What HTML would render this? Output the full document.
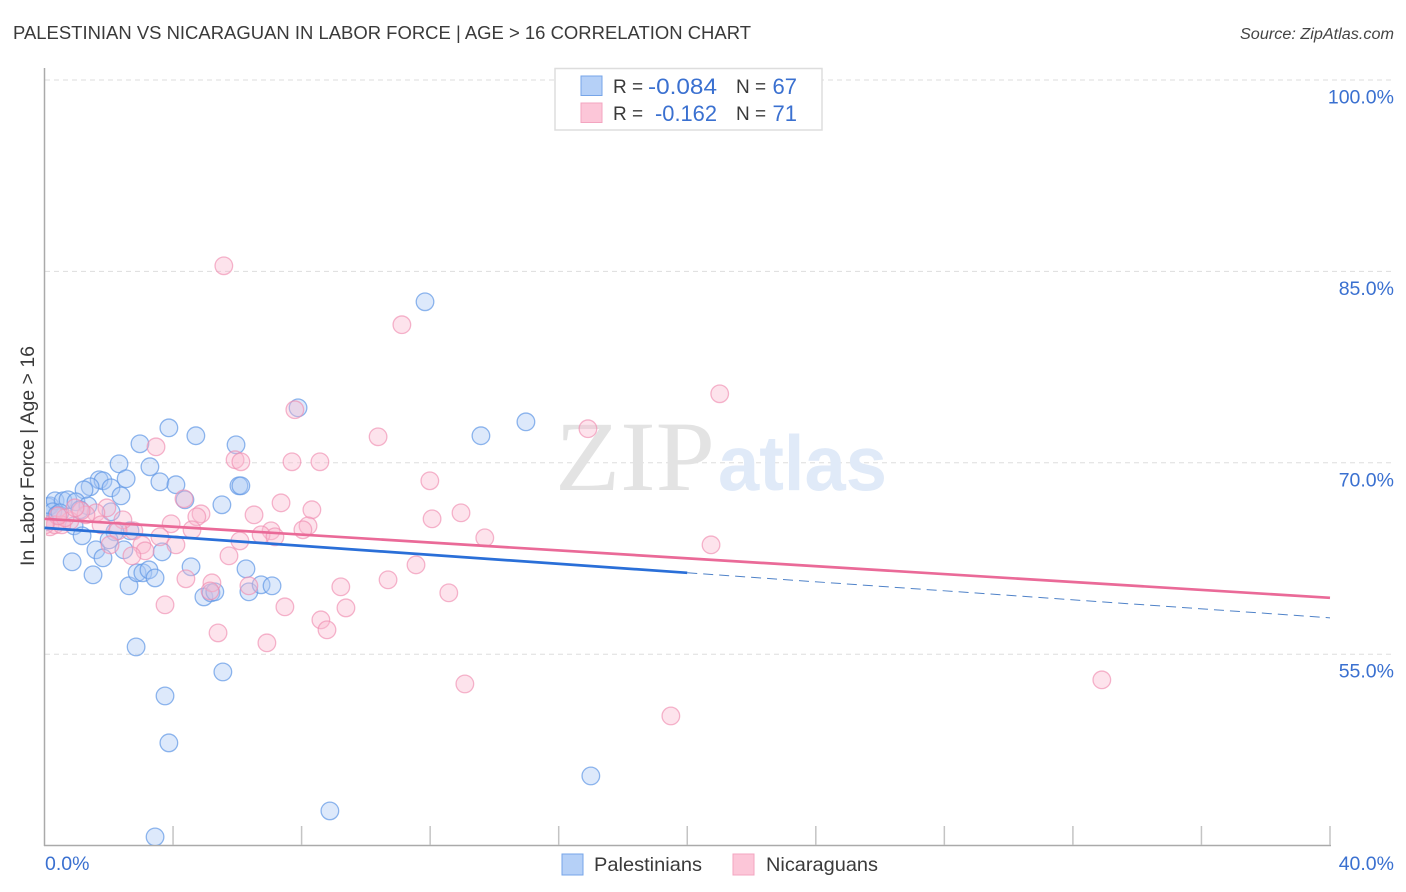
<!DOCTYPE html>
<html lang="en">
<head>
<meta charset="utf-8">
<title>Palestinian vs Nicaraguan in Labor Force Correlation Chart</title>
<style>
html,body{margin:0;padding:0;background:#fff;width:1406px;height:892px;overflow:hidden}
svg{display:block}
text{font-family:"Liberation Sans",sans-serif}
</style>
</head>
<body>
<svg id="chart" width="1406" height="892" viewBox="0 0 1406 892" xmlns="http://www.w3.org/2000/svg">
  <defs>
    <clipPath id="plot-clip"><rect x="46" y="68" width="1350" height="777"></rect></clipPath>
  </defs>
  <rect x="0" y="0" width="1406" height="892" fill="#ffffff"></rect>
  <text x="13" y="39" font-size="18.5" fill="#3a3a3a" textLength="738" lengthAdjust="spacingAndGlyphs">PALESTINIAN VS NICARAGUAN IN LABOR FORCE | AGE &gt; 16 CORRELATION CHART</text>
  <text x="1394" y="39" font-size="15.5" font-style="italic" fill="#444444" text-anchor="end" textLength="154" lengthAdjust="spacingAndGlyphs">Source: ZipAtlas.com</text>
  <g id="grid"></g>
  <g>
    <text x="555" y="490" font-size="100" fill="#e3e3e3" textLength="160" lengthAdjust="spacingAndGlyphs" style="font-family:'Liberation Serif',serif">ZIP</text>
    <text x="718" y="490" font-size="78" font-weight="bold" fill="#e0eaf8" textLength="169" lengthAdjust="spacingAndGlyphs">atlas</text>
  </g>
  <g id="axes"></g>
  <g id="points" clip-path="url(#plot-clip)"></g>
  <g id="trends"></g>
  <g id="tick-labels"></g>
  <text transform="translate(34,456) rotate(-90)" font-size="19" fill="#3a3a3a" text-anchor="middle" textLength="220" lengthAdjust="spacingAndGlyphs">In Labor Force | Age &gt; 16</text>

  <g>
    <rect x="555" y="68.5" width="267" height="61.5" fill="#ffffff" stroke="#dddddd" stroke-width="1.5"></rect>
    <rect x="581" y="76" width="21" height="19.5" fill="#b5d0f7" stroke="#76a5e8" stroke-width="1"></rect>
    <rect x="581" y="103" width="21" height="19.5" fill="#fcc6d8" stroke="#f3a5c0" stroke-width="1"></rect>
    <text x="613" y="93" font-size="19" fill="#3a3a3a">R =</text>
    <text x="717" y="94" font-size="22" fill="#3a70d0" text-anchor="end" textLength="69" lengthAdjust="spacingAndGlyphs">-0.084</text>
    <text x="736" y="93" font-size="19" fill="#3a3a3a">N =</text>
    <text x="797" y="94" font-size="22" fill="#3a70d0" text-anchor="end">67</text>
    <text x="613" y="120" font-size="19" fill="#3a3a3a">R =</text>
    <text x="717" y="121" font-size="22" fill="#3a70d0" text-anchor="end" textLength="62" lengthAdjust="spacingAndGlyphs">-0.162</text>
    <text x="736" y="120" font-size="19" fill="#3a3a3a">N =</text>
    <text x="797" y="121" font-size="22" fill="#3a70d0" text-anchor="end">71</text>
  </g>

  <g>
    <rect x="562" y="854" width="21" height="21" fill="#b5d0f7" stroke="#76a5e8" stroke-width="1"></rect>
    <text x="594" y="871" font-size="19.5" fill="#3a3a3a" textLength="108" lengthAdjust="spacingAndGlyphs">Palestinians</text>
    <rect x="733" y="854" width="21" height="21" fill="#fcc6d8" stroke="#f3a5c0" stroke-width="1"></rect>
    <text x="766" y="871" font-size="19.5" fill="#3a3a3a" textLength="112" lengthAdjust="spacingAndGlyphs">Nicaraguans</text>
  </g>
</svg>

<script>
const yTickValues = [100, 85, 70, 55];
const yTickLabels = ["100.0%", "85.0%", "70.0%", "55.0%"];
const xTickValues = [0, 4, 8, 12, 16, 20, 24, 28, 32, 36, 40];
const xEndLabels = ["0.0%", "40.0%"];

const palestinianX = [3.44,8.88,17.00,3.87,3.75,5.55,2.85,11.84,7.89,14.98,13.58,4.71,3.87,2.97,5.96,3.28,2.32,1.70,1.82,1.42,1.23,2.54,2.07,2.38,3.59,4.09,4.37,6.05,6.11,5.52,2.07,0.11,0.17,0.33,0.58,0.73,0.98,1.35,1.10,0.26,0.39,0.05,0.92,1.17,1.60,0.86,1.82,1.51,2.66,2.19,2.01,2.63,2.88,3.06,3.25,3.44,3.66,4.56,4.96,5.18,5.30,6.27,6.36,6.74,7.08,2.47,0.48];
const palestinianY = [40.68,42.72,45.46,48.05,51.73,53.61,55.57,82.62,74.31,73.21,72.12,72.12,72.74,71.49,71.41,69.69,69.92,68.67,68.59,68.12,67.88,68.75,68.04,67.41,68.51,68.28,67.10,68.20,68.20,66.71,66.16,66.55,66.63,67.02,67.02,67.10,66.94,66.63,66.32,66.16,65.92,65.37,65.06,64.28,63.18,62.24,62.55,61.22,64.67,64.59,63.96,60.36,61.38,61.38,61.61,60.98,63.02,61.85,59.49,59.81,59.89,61.69,59.89,60.44,60.36,63.18,66.08];

const nicaraguanX = [5.58,11.12,21.01,7.79,16.91,10.38,3.47,5.93,6.11,7.70,8.57,11.99,4.34,7.36,12.96,12.06,8.32,4.87,4.74,6.52,3.94,8.20,8.04,4.59,7.05,6.74,7.17,6.08,13.70,20.74,4.09,3.59,2.78,3.03,3.13,2.72,5.74,2.44,1.94,1.60,1.29,0.79,0.17,0.33,0.54,0.64,1.14,1.76,2.29,2.04,3.75,4.40,5.21,5.15,6.36,7.48,9.22,9.38,10.69,11.56,12.58,8.60,8.79,5.40,6.92,13.08,19.49,32.90,0.95,0.42,0.02];
const nicaraguanY = [85.44,80.82,75.41,74.16,72.67,72.04,71.25,70.24,70.08,70.08,70.08,68.59,67.18,66.86,66.08,65.61,66.32,66.00,65.77,65.92,65.22,65.06,64.75,64.75,64.67,64.36,64.20,63.88,64.12,63.57,63.57,64.20,64.67,63.57,63.10,62.71,62.71,65.53,66.47,66.08,65.92,65.45,64.98,65.14,65.14,65.69,66.24,65.14,64.67,63.57,58.87,60.91,60.59,59.96,60.36,58.71,60.28,58.63,60.83,62.00,59.81,57.69,56.91,56.67,55.89,52.67,50.16,52.99,66.47,65.84,65.14];

const palestinianSolidX = [0, 20];
const palestinianSolidY = [64.90, 61.38];
const palestinianDashX = [20, 40];
const palestinianDashY = [61.38, 57.85];
const nicaraguanTrendX = [0, 40];
const nicaraguanTrendY = [65.61, 59.42];

const NS = "http://www.w3.org/2000/svg";
function xScale(v) { return 44.5 + (v / 40) * 1285.5; }
function yScale(v) { return 80 + (100 - v) * 12.76; }

function make(tag, attrs, parent) {
  const el = document.createElementNS(NS, tag);
  for (const k in attrs) el.setAttribute(k, attrs[k]);
  parent.appendChild(el);
  return el;
}

const gridG = document.getElementById("grid");
const axesG = document.getElementById("axes");
const pointsG = document.getElementById("points");
const trendsG = document.getElementById("trends");
const labelsG = document.getElementById("tick-labels");

yTickValues.forEach(function (v, i) {
  const line = make("line", { x1: 45, x2: 1394, y1: yScale(v), y2: yScale(v), stroke: "#dddddd", "stroke-width": 1, "stroke-dasharray": "5 4" }, gridG);
  
  
  const t = make("text", { x: 1394, y: yScale(v) + 23.5, "font-size": 19.5, fill: "#3a70d0", "text-anchor": "end" }, labelsG);
  t.textContent = yTickLabels[i];
  
  
});

const yAxis = make("line", { x1: 44.5, x2: 44.5, y1: 68, y2: 846, stroke: "#aaaaaa", "stroke-width": 1.5 }, axesG);


const xAxis = make("line", { x1: 44, x2: 1331, y1: 845.5, y2: 845.5, stroke: "#aaaaaa", "stroke-width": 1.5 }, axesG);



xTickValues.forEach(function (v) {
  if (v === 0) return;
  const tick = make("line", { x1: xScale(v), x2: xScale(v), y1: 826, y2: 845, stroke: "#c4c4c4", "stroke-width": 1.5 }, axesG);
  
  
});

const xStart = make("text", { x: 45, y: 870, "font-size": 19.5, fill: "#3a70d0" }, labelsG);
xStart.textContent = xEndLabels[0];


const xEnd = make("text", { x: 1394, y: 870, "font-size": 19.5, fill: "#3a70d0", "text-anchor": "end" }, labelsG);
xEnd.textContent = xEndLabels[1];



palestinianX.forEach(function (x, i) {
  const c = make("circle", { cx: xScale(x), cy: yScale(palestinianY[i]), r: 8.8, fill: "#a9c9f6", "fill-opacity": 0.4, stroke: "#5f97e6", "stroke-opacity": 0.7, "stroke-width": 1.3 }, pointsG);
  
  
});
nicaraguanX.forEach(function (x, i) {
  const c = make("circle", { cx: xScale(x), cy: yScale(nicaraguanY[i]), r: 8.8, fill: "#fab9cf", "fill-opacity": 0.4, stroke: "#f08db0", "stroke-opacity": 0.65, "stroke-width": 1.3 }, pointsG);
  
  
});

const blueSolid = make("line", { x1: xScale(palestinianSolidX[0]), x2: xScale(palestinianSolidX[1]), y1: yScale(palestinianSolidY[0]), y2: yScale(palestinianSolidY[1]), stroke: "#2a6fd8", "stroke-width": 2.7 }, trendsG);


const blueDash = make("line", { x1: xScale(palestinianDashX[0]), x2: xScale(palestinianDashX[1]), y1: yScale(palestinianDashY[0]), y2: yScale(palestinianDashY[1]), stroke: "#4f82c8", "stroke-width": 1, "stroke-dasharray": "10 6" }, trendsG);


const pinkLine = make("line", { x1: xScale(nicaraguanTrendX[0]), x2: xScale(nicaraguanTrendX[1]), y1: yScale(nicaraguanTrendY[0]), y2: yScale(nicaraguanTrendY[1]), stroke: "#ea6a98", "stroke-width": 2.7 }, trendsG);


</script>
</body>
</html>
